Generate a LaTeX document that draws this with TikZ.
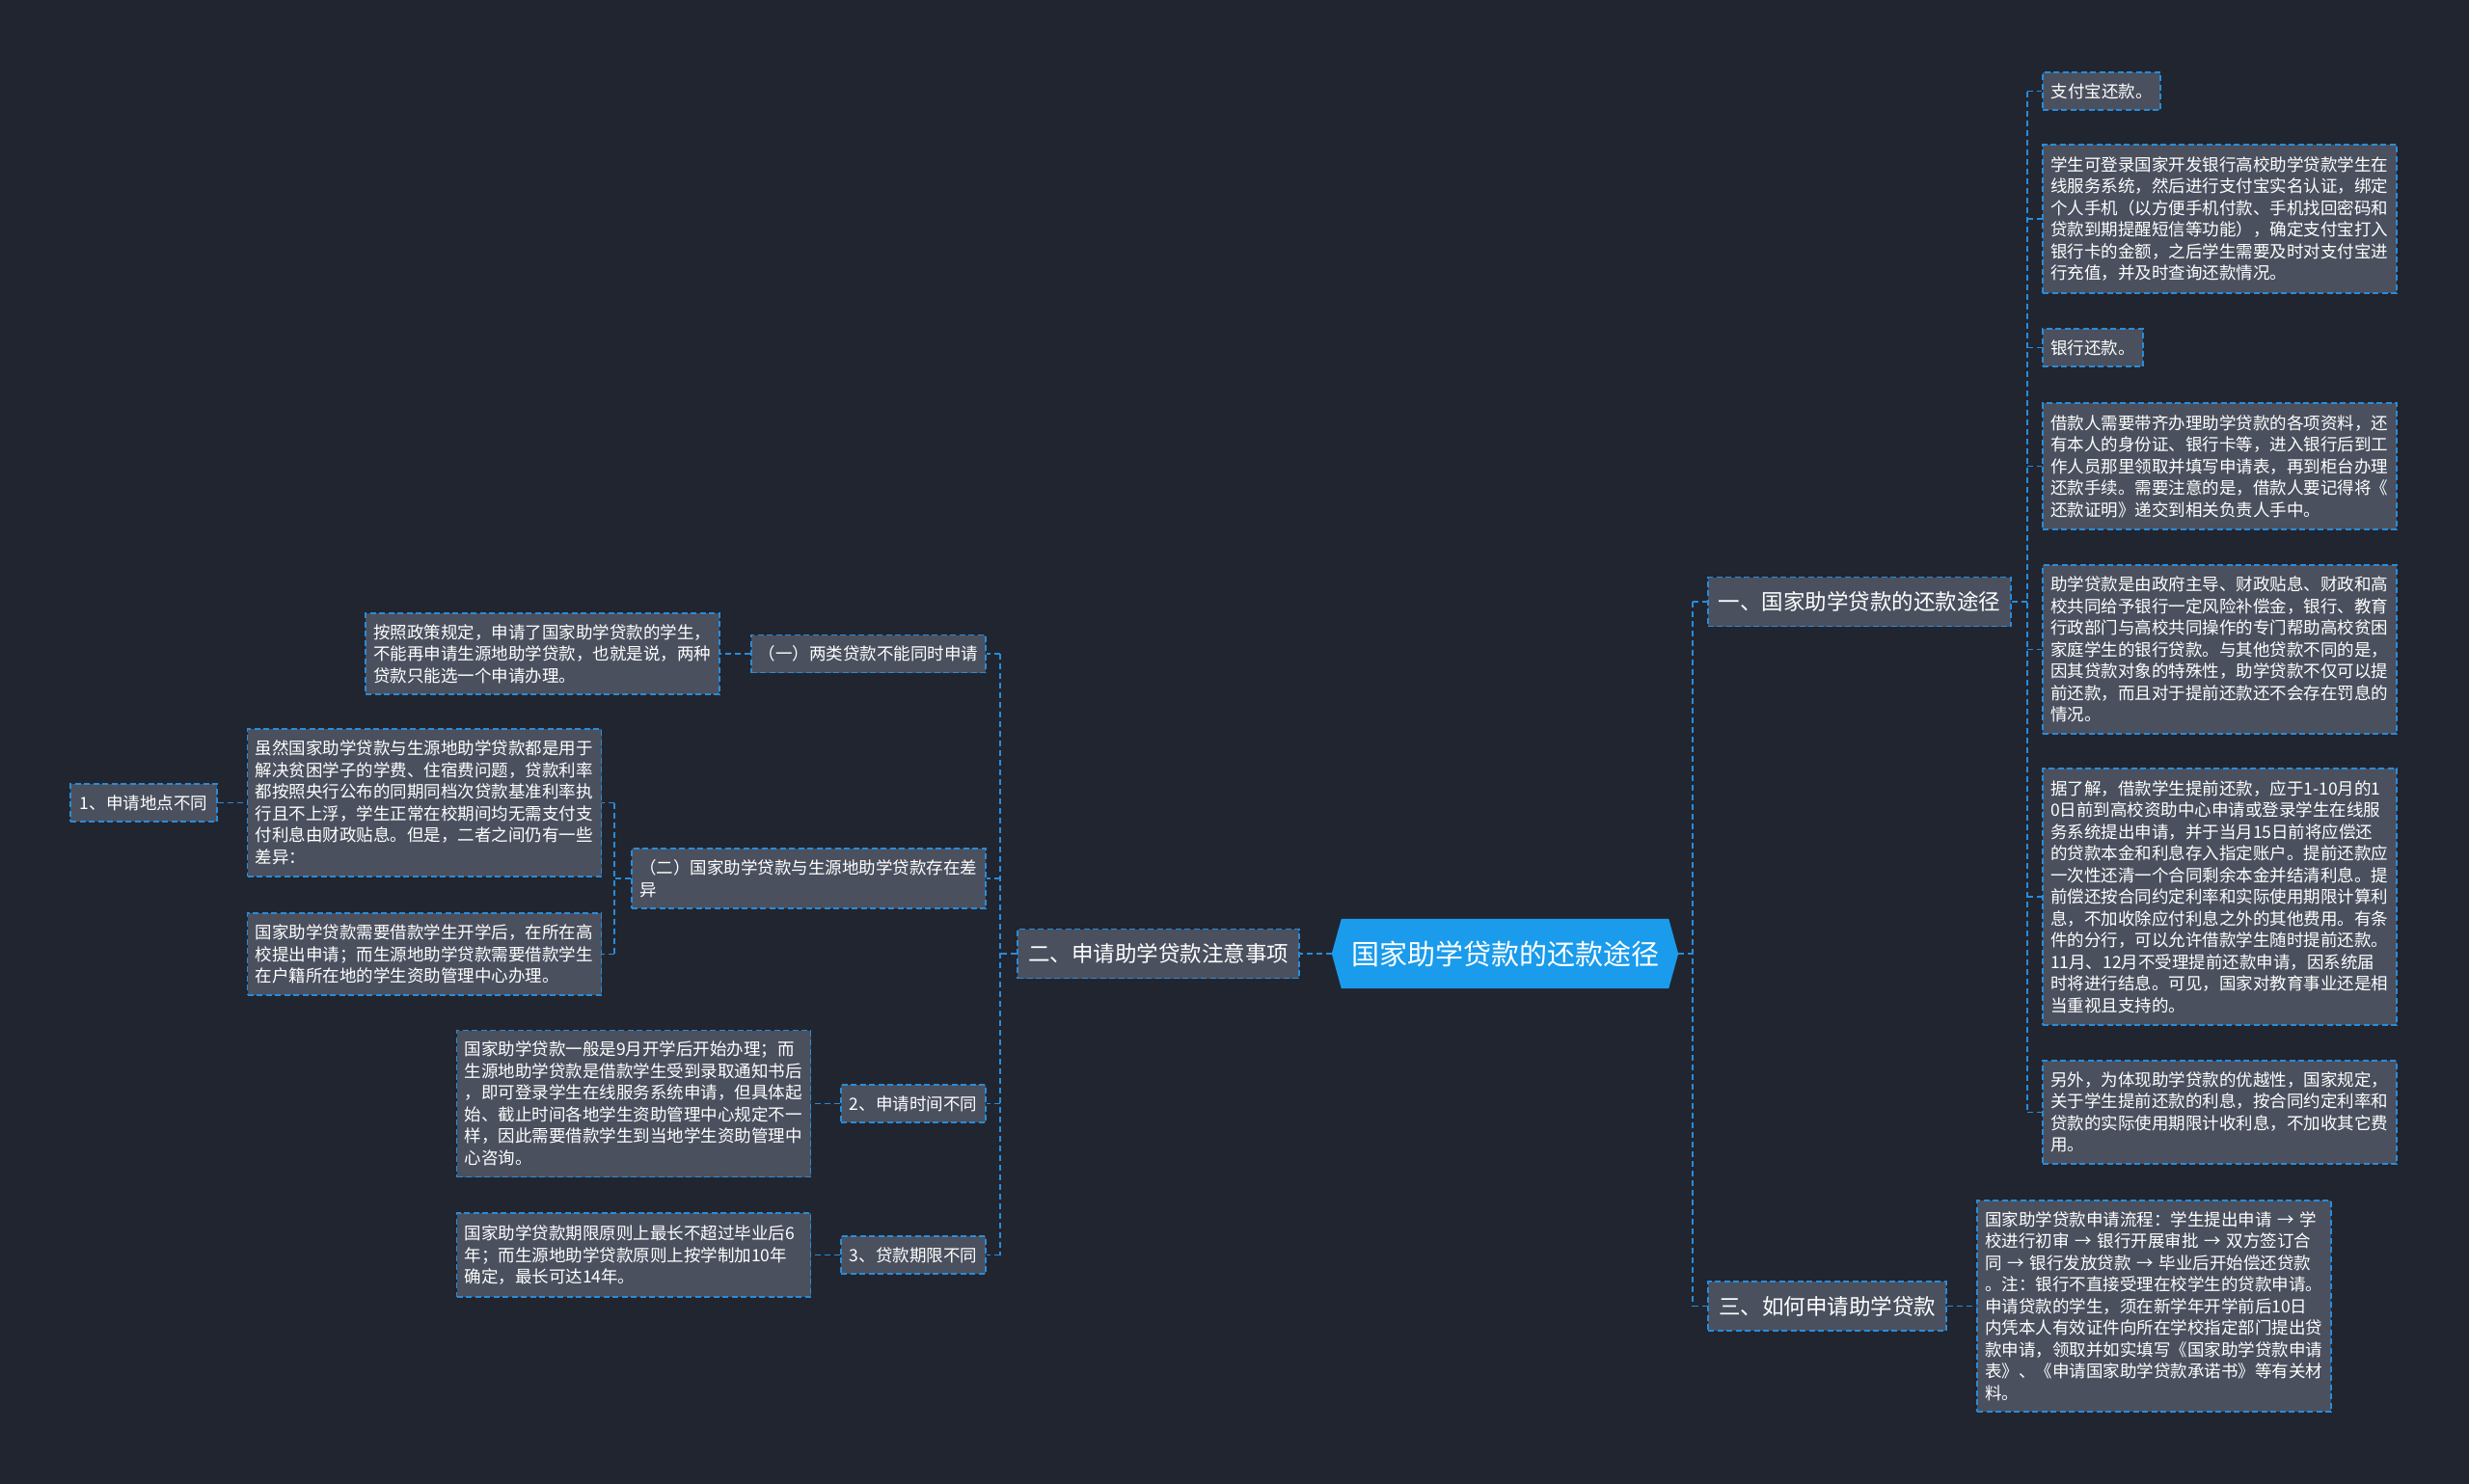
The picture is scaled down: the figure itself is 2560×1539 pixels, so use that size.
\documentclass[tikz,border=0pt]{standalone}
\usepackage{fontspec}
\newfontfamily\cjk{Noto Sans CJK SC}
\usetikzlibrary{calc}
\definecolor{bgc}{RGB}{33,37,48}
\definecolor{boxc}{RGB}{74,80,94}
\definecolor{linec}{RGB}{40,140,218}
\definecolor{rootc}{RGB}{26,155,236}
\pgfdeclarelayer{bg}
\pgfsetlayers{bg,main}
\tikzset{
  conn/.style={draw=linec, line width=1.6pt, dash pattern=on 6pt off 4pt},
  box/.style={draw=linec, line width=1.6pt, dash pattern=on 6pt off 3.5pt, fill=boxc, text=white,
    inner xsep=8pt, inner ysep=0pt, align=left, font=\cjk\fontsize{17.5}{22.5}\selectfont},
  wide/.style={box, text width=351pt},
  lvl/.style={box, font=\cjk\fontsize{22.5}{27}\selectfont, inner xsep=11pt, minimum height=51pt},
  rootn/.style={text=white, font=\cjk\fontsize{29}{34}\selectfont, minimum width=359pt,
    minimum height=72pt, inner sep=0pt}
}
\begin{document}
\begin{tikzpicture}[x=1pt,y=-1pt]
\useasboundingbox (0,0) rectangle (2560,1539);
\begin{pgfonlayer}{bg}
\fill[bgc] (0,0) rectangle (2560,1539);
\end{pgfonlayer}

% root
\node[rootn] (root) at (1560.5,989) {国家助学贷款的还款途径};
\begin{pgfonlayer}{bg}
\fill[rootc] (root.west) -- ([xshift=10pt]root.north west) -- ([xshift=-10pt]root.north east)
  -- (root.east) -- ([xshift=-10pt]root.south east) -- ([xshift=10pt]root.south west) -- cycle;
\end{pgfonlayer}

% level 1
\node[lvl, minimum width=314pt] (b1) at (1928,624) {一、国家助学贷款的还款途径};
\node[lvl, minimum width=292pt] (b2) at (1201,989) {二、申请助学贷款注意事项};
\node[lvl, minimum width=247pt] (b3) at (1894.5,1354.5) {三、如何申请助学贷款};

% right branch one
\node[box, minimum width=122pt, minimum height=39pt] (r1) at (2179,94.5) {支付宝还款。};
\node[wide, minimum height=154pt] (r2) at (2301.5,227) {学生可登录国家开发银行高校助学贷款学生在\\线服务系统，然后进行支付宝实名认证，绑定\\个人手机（以方便手机付款、手机找回密码和\\贷款到期提醒短信等功能），确定支付宝打入\\银行卡的金额，之后学生需要及时对支付宝进\\行充值，并及时查询还款情况。};
\node[box, minimum width=104pt, minimum height=39pt] (r3) at (2170,360.5) {银行还款。};
\node[wide, minimum height=131pt] (r4) at (2301.5,483.5) {借款人需要带齐办理助学贷款的各项资料，还\\有本人的身份证、银行卡等，进入银行后到工\\作人员那里领取并填写申请表，再到柜台办理\\还款手续。需要注意的是，借款人要记得将《\\还款证明》递交到相关负责人手中。};
\node[wide, minimum height=175pt] (r5) at (2301.5,673.5) {助学贷款是由政府主导、财政贴息、财政和高\\校共同给予银行一定风险补偿金，银行、教育\\行政部门与高校共同操作的专门帮助高校贫困\\家庭学生的银行贷款。与其他贷款不同的是，\\因其贷款对象的特殊性，助学贷款不仅可以提\\前还款，而且对于提前还款还不会存在罚息的\\情况。};
\node[wide, minimum height=266pt] (r6) at (2301.5,930) {据了解，借款学生提前还款，应于1-10月的1\\0日前到高校资助中心申请或登录学生在线服\\务系统提出申请，并于当月15日前将应偿还\\的贷款本金和利息存入指定账户。提前还款应\\一次性还清一个合同剩余本金并结清利息。提\\前偿还按合同约定利率和实际使用期限计算利\\息，不加收除应付利息之外的其他费用。有条\\件的分行，可以允许借款学生随时提前还款。\\11月、12月不受理提前还款申请，因系统届\\时将进行结息。可见，国家对教育事业还是相\\当重视且支持的。};
\node[wide, minimum height=107pt] (r7) at (2301.5,1153.5) {另外，为体现助学贷款的优越性，国家规定，\\关于学生提前还款的利息，按合同约定利率和\\贷款的实际使用期限计收利息，不加收其它费\\用。};

% right branch three
\node[wide, minimum height=219pt] (r3c) at (2233.5,1354.5) {国家助学贷款申请流程：学生提出申请~→~学\\校进行初审~→~银行开展审批~→~双方签订合\\同~→~银行发放贷款~→~毕业后开始偿还贷款\\。注：银行不直接受理在校学生的贷款申请。\\申请贷款的学生，须在新学年开学前后10日\\内凭本人有效证件向所在学校指定部门提出贷\\款申请，领取并如实填写《国家助学贷款申请\\表》、《申请国家助学贷款承诺书》等有关材\\料。};

% left branch
\node[box, minimum width=243pt, minimum height=39pt] (l1) at (900.5,678) {（一）两类贷款不能同时申请};
\node[wide, minimum height=84pt] (l1c) at (562.5,678) {按照政策规定，申请了国家助学贷款的学生，\\不能再申请生源地助学贷款，也就是说，两种\\贷款只能选一个申请办理。};
\node[wide, minimum height=62pt] (l2) at (838.5,911) {（二）国家助学贷款与生源地助学贷款存在差\\异};
\node[wide, minimum height=153pt] (l2a) at (440,832.5) {虽然国家助学贷款与生源地助学贷款都是用于\\解决贫困学子的学费、住宿费问题，贷款利率\\都按照央行公布的同期同档次贷款基准利率执\\行且不上浮，学生正常在校期间均无需支付支\\付利息由财政贴息。但是，二者之间仍有一些\\差异：};
\node[wide, minimum height=85pt] (l2b) at (440,989.5) {国家助学贷款需要借款学生开学后，在所在高\\校提出申请；而生源地助学贷款需要借款学生\\在户籍所在地的学生资助管理中心办理。};
\node[box, minimum width=152pt, minimum height=39pt] (l2a0) at (149,832.5) {1、申请地点不同};
\node[box, minimum width=150pt, minimum height=39pt] (l3) at (947,1144.5) {2、申请时间不同};
\node[wide, minimum height=152pt] (l3c) at (657,1144.5) {国家助学贷款一般是9月开学后开始办理；而\\生源地助学贷款是借款学生受到录取通知书后\\，即可登录学生在线服务系统申请，但具体起\\始、截止时间各地学生资助管理中心规定不一\\样，因此需要借款学生到当地学生资助管理中\\心咨询。};
\node[box, minimum width=150pt, minimum height=39pt] (l4) at (947,1301.5) {3、贷款期限不同};
\node[wide, minimum height=87pt] (l4c) at (657,1301.5) {国家助学贷款期限原则上最长不超过毕业后6\\年；而生源地助学贷款原则上按学制加10年\\确定，最长可达14年。};

% connectors
\coordinate (tR) at ($(root.east)+(15,0)$);
\draw[conn] (root.east) -- (tR);
\draw[conn] (tR |- b1.west) -- (tR |- b3.west);
\draw[conn] (tR |- b1.west) -- (b1.west);
\draw[conn] (tR |- b3.west) -- (b3.west);

\coordinate (t1) at ($(b1.east)+(16,0)$);
\draw[conn] (b1.east) -- (t1);
\draw[conn] (t1 |- r1.west) -- (t1 |- r7.west);
\foreach \n in {r1,r2,r3,r4,r5,r6,r7}{
  \draw[conn] (t1 |- \n.west) -- (\n.west);
}
\draw[conn] (b3.east) -- (r3c.west);

\draw[conn] (root.west) -- (b2.east);
\coordinate (tL) at ($(b2.west)+(-17,0)$);
\draw[conn] (b2.west) -- (tL);
\draw[conn] (tL |- l1.east) -- (tL |- l4.east);
\foreach \n in {l1,l2,l3,l4}{
  \draw[conn] (tL |- \n.east) -- (\n.east);
}
\draw[conn] (l1.west) -- (l1c.east);
\coordinate (t2) at ($(l2.west)+(-17,0)$);
\draw[conn] (l2.west) -- (t2);
\draw[conn] (t2 |- l2a.east) -- (t2 |- l2b.east);
\draw[conn] (t2 |- l2a.east) -- (l2a.east);
\draw[conn] (t2 |- l2b.east) -- (l2b.east);
\draw[conn] (l2a0.east) -- (l2a.west);
\draw[conn] (l3.west) -- (l3c.east);
\draw[conn] (l4.west) -- (l4c.east);
\end{tikzpicture}
\end{document}
